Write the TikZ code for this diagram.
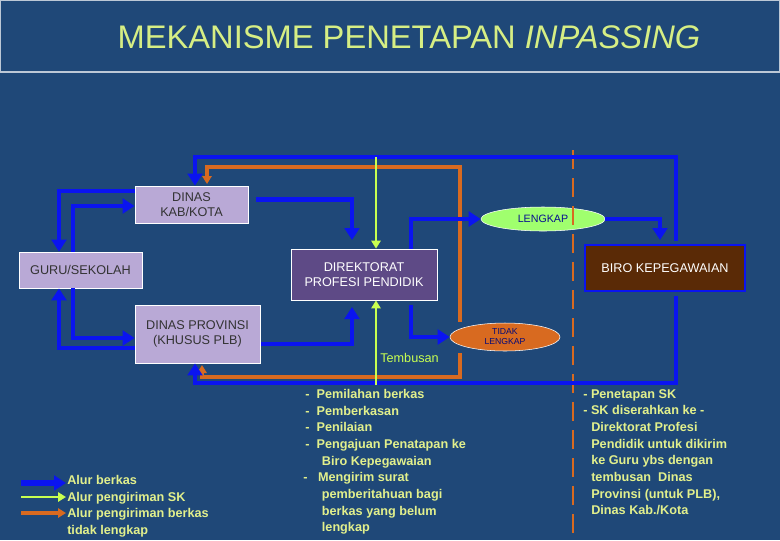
\documentclass[tikz,border=0pt]{standalone}
\usepackage{fontspec}
\setmainfont{Liberation Sans}
\usetikzlibrary{arrows.meta,shapes.geometric}
\definecolor{bg}{HTML}{1F4878}
\definecolor{boxc}{HTML}{B9A9D6}
\definecolor{dirc}{HTML}{5E4A86}
\definecolor{biro}{HTML}{5A2A06}
\definecolor{blu}{HTML}{0A14F0}
\definecolor{grn}{HTML}{C8FF50}
\definecolor{org}{HTML}{D86A20}
\definecolor{txt}{HTML}{E2F08C}
\definecolor{ttl}{HTML}{D6EE84}
\tikzset{
  box/.style={draw=white,line width=0.6pt,fill=boxc,text=black!80,font=\fontsize{9.5}{11}\selectfont,align=center,inner sep=0pt},
  bl/.style={draw=blu,line width=3.4pt,-{Triangle[length=9pt,width=11pt]}},
  gr/.style={draw=grn,line width=2pt,-{Triangle[length=6pt,width=7pt]}},
  og/.style={draw=org,line width=2.6pt,-{Triangle[length=6pt,width=7pt]}},
  note/.style={text=txt,font=\bfseries\fontsize{9.5}{12.5}\selectfont,align=left,anchor=north west,inner sep=0pt}
}
\begin{document}
\begin{tikzpicture}[x=0.75pt,y=-0.75pt]
\useasboundingbox (0,0) rectangle (780,540);
\fill[bg] (0,0) rectangle (780,540);
\draw[white!70!bg,line width=1pt] (0.5,0.5) rectangle (779.5,72);
\node[text=ttl,font=\fontsize{24.5}{28}\selectfont] (title) at (409,37) {MEKANISME PENETAPAN \textit{INPASSING}};
% boxes
\node[box,minimum width=113*0.75pt,minimum height=37*0.75pt] (kab) at (191.5,204.5) {DINAS\\KAB/KOTA};
\node[box,minimum width=123*0.75pt,minimum height=36*0.75pt] (guru) at (80.5,270) {GURU/SEKOLAH};
\node[box,minimum width=125*0.75pt,minimum height=58*0.75pt] (prov) at (197.5,334) {DINAS PROVINSI\\(KHUSUS PLB)};
\node[box,fill=dirc,text=white,minimum width=146*0.75pt,minimum height=51*0.75pt] (dir) at (364,274.5) {DIREKTORAT\\PROFESI PENDIDIK};
\node[draw=blu,line width=0.8pt,fill=biro,text=white,font=\fontsize{9.5}{11}\selectfont,minimum width=160*0.75pt,minimum height=46*0.75pt,inner sep=0pt] (biro) at (665,268) {BIRO KEPEGAWAIAN};
\node[ellipse,draw=white,fill=grn!60!green!70!white,text=blu!60!black,font=\fontsize{8}{9}\selectfont,minimum width=124*0.75pt,minimum height=24*0.75pt,inner sep=0pt] (lk) at (543,219) {LENGKAP};
\node[ellipse,draw=white,fill=org,text=blu!50!black,font=\fontsize{6.5}{7.5}\selectfont,align=center,minimum width=110*0.75pt,minimum height=28*0.75pt,inner sep=0pt] (tl) at (505,337) {TIDAK\\LENGKAP};
% dashed divider
\coordinate (dv1) at (573,150); \coordinate (dv2) at (573,540);
\draw[org,line width=2pt,dash pattern=on 14pt off 7pt] (dv1) -- (dv2);
% orange return loops
\coordinate (o1) at (460,322);
\coordinate (o2) at (460,353);
\draw[og] (o1) |- (207,167) -- (207,184);
\draw[og] (o2) |- (202,377) -- (202,365);
% blue big loops
\draw[bl] (676,241) |- (195,157) -- (kab.north -| 195,0);
\draw[bl] (676,296) |- (195,383) -- (prov.south -| 195,0);
% green
\draw[gr] (376,157) -- (dir.north -| 376,0);
\draw[gr] (376,385) -- (dir.south -| 376,0);
\node[text=grn,font=\fontsize{9.5}{11}\selectfont,anchor=west,inner sep=0pt] (tem) at (380,358) {Tembusan};
% blue flows
\draw[bl] (kab.east) ++(8,-5) -| (352,240);
\draw[bl] (prov.east) ++(1,10) -| (352,307);
\draw[bl] (dir.north -| 411,0) |- (lk.west);
\draw[bl] (lk.east) -| (660,240);
\draw[bl] (411,305) |- (tl.west);
% guru loops
\draw[bl] (kab.west |- 0,191) -| (guru.north -| 59,0);
\draw[bl] (guru.north -| 73,0) |- (kab.west |- 0,206);
\draw[bl] (guru.south -| 73,0) |- (prov.west |- 0,338);
\draw[bl] (prov.west |- 0,348) -| (guru.south -| 59,0);
% legend
\coordinate (la) at (21,483); \coordinate (lb) at (66,483);
\draw[bl,line width=4pt] (la) -- (lb);
\coordinate (lc) at (21,497); \coordinate (ld) at (66,497);
\draw[gr] (lc) -- (ld);
\coordinate (le) at (21,513); \coordinate (lf) at (66,513);
\draw[og] (le) -- (lf);
\node[note] (leg) at (67,475) {Alur berkas\\Alur pengiriman SK\\Alur pengiriman berkas\\tidak lengkap};
\node[note] (mid) at (303,389) {\,-\ \ Pemilahan berkas\\\,-\ \ Pemberkasan\\\,-\ \ Penilaian\\\,-\ \ Pengajuan Penatapan ke\\\hspace*{14pt}Biro Kepegawaian\\-\ \ \ Mengirim surat\\\hspace*{14pt}pemberitahuan bagi\\\hspace*{14pt}berkas yang belum\\\hspace*{14pt}lengkap};
\node[note] (right) at (583,389) {- Penetapan SK\\- SK diserahkan ke -\\\hspace*{6pt}Direktorat Profesi\\\hspace*{6pt}Pendidik untuk dikirim\\\hspace*{6pt}ke Guru ybs dengan\\\hspace*{6pt}tembusan\ \ Dinas\\\hspace*{6pt}Provinsi (untuk PLB),\\\hspace*{6pt}Dinas Kab./Kota};
\end{tikzpicture}
\end{document}
